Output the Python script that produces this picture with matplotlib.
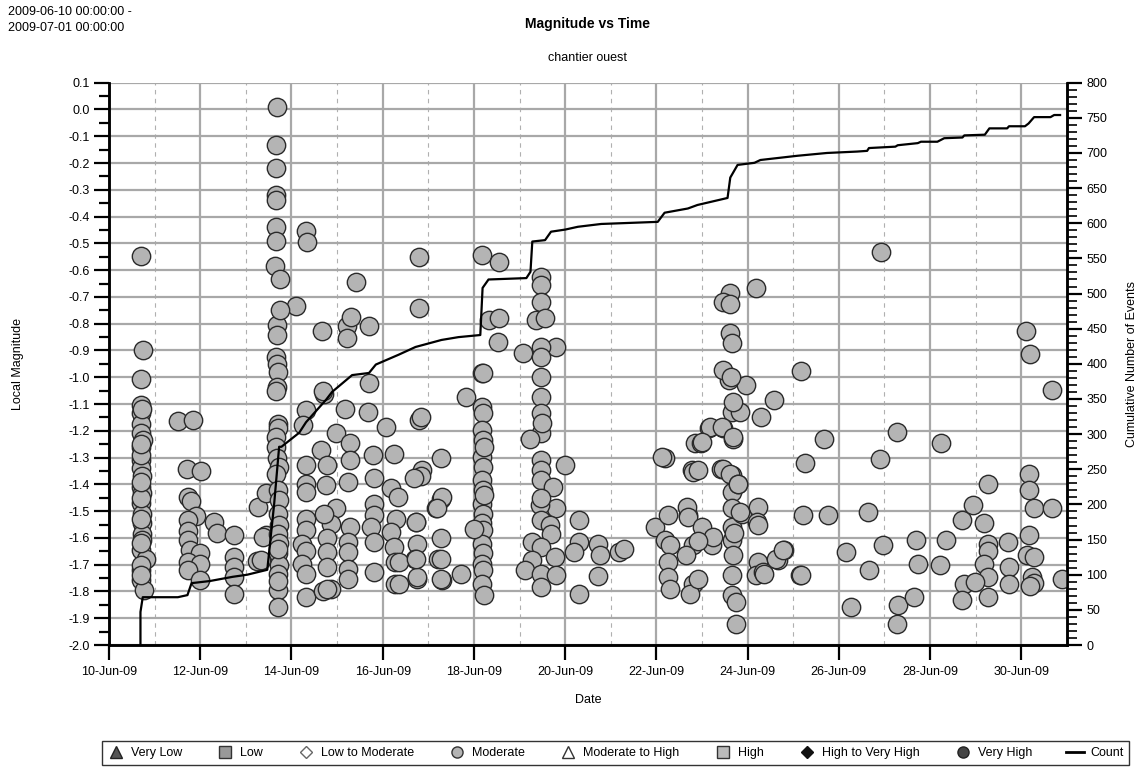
import numpy as np
import matplotlib
matplotlib.use("Agg")
import matplotlib.pyplot as plt
import matplotlib.dates as mdates
from matplotlib.lines import Line2D
from matplotlib.ticker import MultipleLocator
from datetime import datetime

plt.rcParams['font.family'] = ['Liberation Sans', 'DejaVu Sans']

# events: (days after 2009-06-10 00:00, local magnitude), grouped by burst
burst_a_day = [0.71, 0.75, 0.71, 0.71, 0.71, 0.71, 0.71, 0.75, 0.71, 0.71, 0.71, 0.72,
               0.71, 0.73, 0.71, 0.73, 0.73, 0.72, 0.73, 0.71, 0.81, 0.71, 0.71, 0.76,
               0.71, 0.71, 0.71, 0.71, 0.71, 0.71, 0.72, 0.71, 0.71]
burst_a_mag = [-0.546, -0.899, -1.005, -1.104, -1.135, -1.173, -1.21, -1.235, -1.26, -1.31, -1.34, -1.37,
               -1.41, -1.434, -1.47, -1.51, -1.546, -1.584, -1.609, -1.646, -1.677, -1.72, -1.758, -1.796,
               -1.29, -1.45, -1.53, -1.62, -1.70, -1.74, -1.12, -1.25, -1.39]

burst_b_day = [1.51, 1.84, 1.71, 2.02, 1.73, 1.80, 1.91, 1.73, 2.31, 2.36, 2.75, 1.73,
               1.73, 1.77, 1.99, 1.73, 1.99, 1.73, 1.99, 2.75, 2.75, 2.75, 2.75, 3.24,
               3.26, 3.45, 3.45, 3.37, 3.33]
burst_b_mag = [-1.164, -1.16, -1.341, -1.35, -1.447, -1.462, -1.519, -1.534, -1.54, -1.581, -1.59, -1.575,
               -1.609, -1.646, -1.658, -1.69, -1.696, -1.72, -1.758, -1.671, -1.708, -1.746, -1.808, -1.686,
               -1.484, -1.434, -1.59, -1.596, -1.683]

burst_c_day = [3.68, 3.66, 3.66, 3.66, 3.66, 3.66, 3.66, 3.63, 3.75, 3.68, 3.68, 3.66,
               3.68, 3.70, 3.69, 3.66, 3.70, 3.70, 3.66, 3.66, 3.68, 3.73, 3.66, 3.70,
               3.73, 3.70, 3.73, 3.70, 3.73, 3.70, 3.73, 3.70, 3.70, 3.70, 3.70, 3.70]
burst_c_mag = [0.01, -0.133, -0.22, -0.32, -0.338, -0.44, -0.49, -0.585, -0.632, -0.805, -0.843, -0.924,
               -0.95, -0.98, -1.036, -1.05, -1.173, -1.19, -1.223, -1.26, -1.30, -1.335, -1.36, -1.422,
               -1.46, -1.509, -1.55, -1.584, -1.62, -1.658, -1.70, -1.733, -1.796, -1.858, -1.76, -1.64]

after_c_day = [4.31, 4.33, 4.09, 3.75, 4.68, 5.21, 5.30, 5.21, 5.41, 4.31, 4.25, 4.72,
               4.70, 4.98, 5.18, 5.69, 5.69, 5.68, 5.29, 4.64, 5.29, 4.78, 4.31, 5.78,
               6.07, 6.25, 5.82, 4.31, 4.76, 5.23, 6.18, 6.33, 4.31, 4.98, 5.82, 5.82,
               6.29, 6.73, 4.31, 4.87, 5.29, 4.72, 5.74, 4.31, 6.18, 4.78, 5.25, 4.24,
               5.82, 6.76, 7.27, 7.22, 6.71, 6.25, 4.31, 4.78, 5.25, 4.24, 4.78, 5.25,
               4.31, 6.28, 5.82, 6.76, 7.31, 7.71, 6.28, 5.23, 4.87, 4.31, 4.70, 4.78,
               6.87, 6.84, 6.80, 6.85, 6.80, 6.80, 7.27, 7.27, 7.16, 7.82, 8.18, 6.36,
               6.69, 7.29, 7.20, 6.73, 6.76, 7.27, 6.73, 7.27, 6.36]
after_c_mag = [-0.454, -0.496, -0.733, -0.75, -0.828, -0.81, -0.774, -0.855, -0.646, -1.123, -1.179, -1.061,
               -1.05, -1.21, -1.117, -0.81, -1.023, -1.129, -1.245, -1.272, -1.31, -1.328, -1.328, -1.291,
               -1.185, -1.288, -1.378, -1.397, -1.403, -1.391, -1.415, -1.447, -1.43, -1.49, -1.472, -1.515,
               -1.528, -1.54, -1.528, -1.547, -1.559, -1.509, -1.559, -1.572, -1.578, -1.602, -1.615, -1.621,
               -1.615, -1.621, -1.602, -1.677, -1.677, -1.634, -1.65, -1.652, -1.652, -1.696, -1.71, -1.715,
               -1.733, -1.69, -1.727, -1.752, -1.758, -1.733, -1.771, -1.752, -1.79, -1.82, -1.80, -1.79,
               -1.347, -1.37, -1.16, -1.15, -0.743, -0.552, -1.303, -1.453, -1.49, -1.073, -0.986, -1.69,
               -1.378, -1.447, -1.49, -1.54, -1.746, -1.677, -1.677, -1.752, -1.771]

burst_d_day = [8.18, 8.55, 8.32, 8.55, 8.53, 8.20, 8.18, 8.20, 8.18, 8.20, 8.18, 8.20,
               8.18, 8.20, 8.18, 8.20, 8.18, 8.20, 8.18, 8.20, 8.18, 8.20, 8.18, 8.00,
               8.22, 8.22, 8.22]
burst_d_mag = [-0.544, -0.569, -0.787, -0.78, -0.868, -0.986, -1.11, -1.135, -1.198, -1.235, -1.297, -1.335,
               -1.385, -1.422, -1.472, -1.509, -1.546, -1.572, -1.621, -1.658, -1.696, -1.72, -1.771, -1.565,
               -1.814, -1.26, -1.44]

burst_e_day = [9.48, 9.48, 9.48, 9.37, 9.55, 9.08, 9.79, 9.48, 9.48, 9.46, 9.48, 9.48,
               9.48, 9.24, 9.48, 9.48, 9.48, 10.0, 9.73, 9.79, 9.44, 9.48, 9.67, 9.70,
               9.27, 9.48, 9.77, 9.27, 9.13, 9.46, 9.79, 9.48, 9.50, 9.48]
burst_e_mag = [-0.625, -0.656, -0.718, -0.787, -0.78, -0.911, -0.886, -0.886, -0.924, -0.999, -1.073, -1.135,
               -1.21, -1.229, -1.31, -1.347, -1.385, -1.328, -1.41, -1.49, -1.478, -1.534, -1.553, -1.584,
               -1.615, -1.634, -1.671, -1.683, -1.72, -1.733, -1.74, -1.783, -1.17, -1.45]

late_day = [10.3, 10.3, 10.19, 10.73, 10.77, 10.73, 10.31, 11.17, 11.30,
            12.19, 11.96, 12.25, 12.19, 12.30, 12.25, 12.25, 12.30, 12.12, 12.69, 12.84, 12.77,
            12.68, 12.69, 12.80, 12.65, 12.80, 12.73, 12.99, 13.23, 12.80, 12.98, 13.15, 13.46,
            13.65, 13.83, 13.67, 14.30, 14.58, 13.97, 13.60, 13.42, 13.65, 13.65, 13.65, 13.65,
            13.65, 13.67, 13.65, 13.65, 13.75, 13.75, 13.87, 14.23, 14.21, 14.23, 14.23, 14.19,
            14.34, 14.67, 14.80, 15.14, 15.21, 15.25,
            13.61, 13.46, 13.61, 14.19, 13.61, 13.66, 13.46, 13.63, 13.67, 13.17, 13.43, 13.0,
            13.67, 15.18, 15.67, 18.24, 20.10, 20.18, 20.68, 16.93, 17.27, 16.91, 12.92, 13.46,
            13.62, 13.80, 13.83, 13.25, 12.92, 12.92, 14.37, 14.63, 14.78, 15.18, 15.76, 16.16,
            16.27, 16.63, 16.67, 16.96, 17.29, 17.27, 17.65, 17.69, 17.73, 18.22, 18.35, 18.71,
            18.93, 19.26, 19.18, 19.26, 19.26, 19.18, 19.26, 19.26, 18.75, 18.71, 18.98, 19.70,
            19.73, 19.73, 20.17, 20.17, 20.28, 20.17, 20.13, 20.28, 20.24, 20.28, 20.20, 20.68,
            20.90, 13.79, 13.70]
late_mag = [-1.534, -1.615, -1.652, -1.621, -1.665, -1.743, -1.808, -1.652, -1.64,
            -1.30, -1.559, -1.515, -1.609, -1.627, -1.69, -1.746, -1.79, -1.297, -1.515, -1.247, -1.347,
            -1.484, -1.522, -1.627, -1.665, -1.771, -1.808, -1.559, -1.627, -1.353, -1.247, -1.191, -1.191,
            -1.129, -1.129, -1.229, -1.15, -1.086, -1.03, -1.011, -1.341, -1.366, -1.428, -1.49, -1.559,
            -1.609, -1.665, -1.74, -1.814, -1.839, -1.92, -1.509, -1.484, -1.54, -1.55, -1.69, -1.74,
            -1.727, -1.683, -1.646, -1.74, -1.515, -1.322,
            -0.687, -0.718, -0.728, -0.668, -0.836, -0.874, -0.974, -0.999, -1.092, -1.185, -1.185, -1.241,
            -1.225, -0.977, -1.229, -1.245, -0.828, -0.914, -1.046, -0.531, -1.204, -1.307, -1.347, -1.341,
            -1.36, -1.397, -1.503, -1.597, -1.61, -1.752, -1.733, -1.677, -1.646, -1.74, -1.515, -1.652,
            -1.858, -1.503, -1.72, -1.627, -1.851, -1.92, -1.82, -1.609, -1.696, -1.702, -1.609, -1.534,
            -1.478, -1.397, -1.546, -1.621, -1.65, -1.696, -1.746, -1.82, -1.771, -1.833, -1.765, -1.615,
            -1.709, -1.771, -1.36, -1.422, -1.49, -1.59, -1.665, -1.671, -1.746, -1.77, -1.78, -1.49,
            -1.752, -1.40, -1.58]

# cumulative count line breakpoints
count_day = [0.69, 0.69, 0.74, 1.51, 1.72, 1.81, 2.21, 2.71, 3.03, 3.47, 3.62, 3.73,
             3.78, 4.17, 4.32, 4.76, 4.89, 5.33, 5.70, 5.85, 6.35, 6.72, 7.29, 7.66,
             8.14, 8.19, 8.32, 9.15, 9.24, 9.28, 9.56, 9.69, 10.0, 10.28, 10.79, 12.03,
             12.18, 12.69, 12.90, 13.56, 13.62, 13.78, 14.15, 14.28, 15.09, 15.74, 16.40,
             16.62, 16.66, 17.24, 17.29, 17.73, 17.80, 18.16, 18.31, 18.71, 18.75, 19.20,
             19.30, 19.69, 19.73, 20.08, 20.16, 20.28, 20.64, 20.72, 20.85]
count_val = [0, 47, 68, 68, 71, 88, 91, 97, 100, 107, 200, 282,
             282, 302, 317, 349, 360, 384, 387, 399, 413, 424, 434, 438,
             441, 508, 520, 522, 531, 574, 576, 588, 591, 595, 599, 602,
             615, 621, 626, 636, 665, 683, 686, 690, 696, 700, 702,
             703, 707, 709, 711, 714, 716, 716, 721, 722, 725, 726,
             735, 735, 738, 738, 742, 751, 751, 754, 754]

all_day = np.array(burst_a_day + burst_b_day + burst_c_day + after_c_day +
                   burst_d_day + burst_e_day + late_day)
all_mag = np.array(burst_a_mag + burst_b_mag + burst_c_mag + after_c_mag +
                   burst_d_mag + burst_e_mag + late_mag)

t0 = mdates.date2num(datetime(2009, 6, 10))
ev_t = t0 + all_day
cnt_t = t0 + np.array(count_day)

fig = plt.figure(figsize=(11.46, 7.72), dpi=100)
ax = fig.add_axes([0.0951, 0.1645, 0.8359, 0.7284])
ax2 = ax.twinx()

grid_c = '#a8a8a8'
ax.set_axisbelow(True)
ax.scatter(ev_t, all_mag, s=175, facecolor='#b4b4b4', edgecolor='#2a2a2a',
           linewidth=1.0, zorder=3)

ax.set_xlim(t0, mdates.date2num(datetime(2009, 7, 1)))
ax.set_ylim(-2.0, 0.1)
ax.yaxis.set_major_locator(MultipleLocator(0.1))
ax.yaxis.set_minor_locator(MultipleLocator(0.05))
ax.yaxis.set_major_formatter(plt.FuncFormatter(lambda v, p: f'{v:.1f}'.replace('-0.0', '0.0')))
ax.xaxis.set_major_locator(mdates.DayLocator(bymonthday=list(range(10, 31, 2))))
ax.xaxis.set_minor_locator(mdates.DayLocator(bymonthday=list(range(11, 30, 2))))
ax.xaxis.set_major_formatter(mdates.DateFormatter('%d-%b-%y'))

ax.grid(True, which='major', color=grid_c, linewidth=1.6, linestyle='-')
ax.grid(True, which='minor', axis='x', color='#b0b0b0', linewidth=0.8, linestyle=(0, (4, 4)))

for a in (ax, ax2):
    a.spines['top'].set_visible(False)
    for s in ('left', 'right', 'bottom'):
        a.spines[s].set_linewidth(1.8)
        a.spines[s].set_color('black')

ax.tick_params(axis='y', which='major', length=11, width=1.6, labelsize=9, pad=3)
ax.tick_params(axis='y', which='minor', length=7, width=1.6)
ax.tick_params(axis='x', which='major', length=11, width=1.6, labelsize=9, pad=4)
ax.tick_params(axis='x', which='minor', length=0)

ax2.plot(cnt_t, count_val, color='black', linewidth=1.6, zorder=5)
ax2.set_ylim(0, 800)
ax2.yaxis.set_major_locator(MultipleLocator(50))
ax2.yaxis.set_minor_locator(MultipleLocator(10))
ax2.tick_params(axis='y', which='major', length=11, width=1.6, labelsize=9, pad=3)
ax2.tick_params(axis='y', which='minor', length=7, width=1.2)

fig.text(0.0157, 0.5285, 'Local Magnitude', rotation=90, ha='center', va='center', fontsize=9)
fig.text(0.988, 0.5285, 'Cumulative Number of Events', rotation=90, ha='center', va='center', fontsize=9)
fig.text(0.5131, 0.093, 'Date', ha='center', va='center', fontsize=9)
fig.text(0.007, 0.992, '2009-06-10 00:00:00 -\n2009-07-01 00:00:00', ha='left', va='top',
         fontsize=9, linespacing=1.45)
fig.text(0.513, 0.978, 'Magnitude vs Time', ha='center', va='top', fontsize=10, fontweight='bold')
fig.text(0.513, 0.925, 'chantier ouest', ha='center', va='center', fontsize=9)

handles = [
    Line2D([], [], marker='^', color='none', markerfacecolor='#555555', markeredgecolor='#222222', markersize=8),
    Line2D([], [], marker='s', color='none', markerfacecolor='#999999', markeredgecolor='#333333', markersize=8),
    Line2D([], [], marker='D', color='none', markerfacecolor='white', markeredgecolor='#666666', markersize=6.5),
    Line2D([], [], marker='o', color='none', markerfacecolor='#b4b4b4', markeredgecolor='#333333', markersize=8),
    Line2D([], [], marker='^', color='none', markerfacecolor='white', markeredgecolor='#333333', markersize=8),
    Line2D([], [], marker='s', color='none', markerfacecolor='#bbbbbb', markeredgecolor='#333333', markersize=8),
    Line2D([], [], marker='D', color='none', markerfacecolor='#111111', markeredgecolor='#111111', markersize=6.5),
    Line2D([], [], marker='o', color='none', markerfacecolor='#444444', markeredgecolor='#222222', markersize=8),
    Line2D([], [], color='black', linewidth=2),
]
labels = ['Very Low', 'Low', 'Low to Moderate', 'Moderate', 'Moderate to High',
          'High', 'High to Very High', 'Very High', 'Count']
leg = fig.legend(handles, labels, loc='center', bbox_to_anchor=(0.537, 0.0245), ncol=9,
                 fontsize=9, frameon=True, fancybox=False, handlelength=1.4, handletextpad=0.5,
                 columnspacing=2.75, borderpad=0.45)
leg.get_frame().set_edgecolor('black')
leg.get_frame().set_linewidth(1.0)

fig.savefig('out.png', dpi=100)
